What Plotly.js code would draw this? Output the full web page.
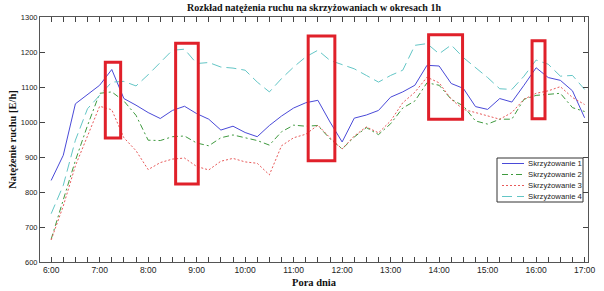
<!DOCTYPE html>
<html>
<head>
<meta charset="utf-8">
<script src="https://cdn.plot.ly/plotly-3.0.1.min.js"></script>
<style>html,body{margin:0;padding:0;background:#fff;}#chart{width:604px;height:291px;}</style>
</head>
<body>
<div id="chart"></div>
<script>
const times = ["6:00","6:15","6:30","6:45","7:00","7:15","7:30","7:45","8:00","8:15","8:30","8:45",
  "9:00","9:15","9:30","9:45","10:00","10:15","10:30","10:45","11:00","11:15","11:30","11:45",
  "12:00","12:15","12:30","12:45","13:00","13:15","13:30","13:45","14:00","14:15","14:30","14:45",
  "15:00","15:15","15:30","15:45","16:00","16:15","16:30","16:45","17:00"];
const s1 = [833,905,1052,1078,1105,1150,1067,1048,1027,1010,1033,1045,1024,1008,977,988,970,958,990,1017,1040,1055,1062,1000,943,1011,1020,1033,1071,1086,1105,1162,1160,1110,1096,1044,1036,1067,1057,1105,1155,1127,1119,1089,1012];
const s2 = [665,775,890,990,1082,1086,1060,1019,948,947,958,960,940,932,955,963,955,947,934,972,991,988,990,952,923,957,984,964,995,1040,1060,1112,1105,1065,1046,1003,994,1008,1008,1065,1076,1078,1082,1041,1030];
const s3 = [663,760,875,960,1045,1035,955,918,864,884,894,897,873,863,888,896,886,882,849,932,955,965,991,955,923,960,986,969,1003,1055,1085,1128,1112,1065,1036,1027,1017,1008,1027,1065,1082,1089,1101,1070,1050];
const s4 = [738,819,948,1038,1076,1114,1116,1103,1135,1170,1205,1208,1167,1170,1157,1154,1148,1114,1086,1124,1157,1186,1205,1176,1164,1152,1133,1114,1133,1148,1219,1224,1195,1220,1184,1155,1127,1095,1093,1131,1177,1165,1131,1133,1093];
const seriesNames = ["Skrzyżowanie 1","Skrzyżowanie 2","Skrzyżowanie 3","Skrzyżowanie 4"];

// highlighted regions (red frames)
const hlStart = ["7:07","8:34","11:18","13:47","15:55"];
const hlEnd   = ["7:26","9:02","11:51","14:29","16:11"];
const hlLow   = [954,823,889,1008,1009];
const hlHigh  = [1171,1225,1246,1249,1232];

function toH(t){const p=t.split(":");return +p[0]+ (+p[1])/60;}
const x = times.map(toH);

const colors = ["#4a4ad8","#3f9a3f","#e85a5a","#63c6c6"];
const dashes = ["solid","6px,3px,2px,3px","2px,2px","10px,5px"];
const data = [s1,s2,s3,s4].map((s,i)=>({
  x:x, y:s, type:"scatter", mode:"lines", name:seriesNames[i], showlegend:false,
  line:{color:colors[i], width:1, dash:dashes[i]}
}));

const shapes = hlStart.map((s,i)=>({
  type:"rect", xref:"x", yref:"y", x0:toH(s), x1:toH(hlEnd[i]), y0:hlLow[i], y1:hlHigh[i],
  line:{color:"#e0202a", width:3}, fillcolor:"rgba(0,0,0,0)"
}));

// custom compact legend (pixel layout -> paper coords)
const M = {l:40, r:16, t:17, b:29}, W = 604, H = 291;
const pw = W - M.l - M.r, ph = H - M.t - M.b;
const px = v => (v - M.l) / pw;
const py = v => 1 - (v - M.t) / ph;
const annotations = [];
shapes.push({type:"rect", xref:"paper", yref:"paper", x0:px(497), x1:px(583), y0:py(202), y1:py(158),
  line:{color:"#333", width:1}, fillcolor:"#fff", layer:"above"});
seriesNames.forEach((n,i)=>{
  const yy = 163.5 + i*11;
  shapes.push({type:"line", xref:"paper", yref:"paper", x0:px(502), x1:px(524), y0:py(yy), y1:py(yy),
    line:{color:colors[i], width:1, dash:dashes[i]}, layer:"above"});
  annotations.push({xref:"paper", yref:"paper", x:px(526), y:py(yy), xanchor:"left", yanchor:"middle",
    text:n, showarrow:false, font:{size:7.7, color:"#222", family:"Liberation Sans, Arial, sans-serif"}});
});

const layout = {
  width:W, height:H,
  margin:M,
  paper_bgcolor:"#fff", plot_bgcolor:"#fff",
  font:{family:"Liberation Sans, Arial, sans-serif", size:8, color:"#222"},
  title:{text:"<b>Rozkład natężenia ruchu na skrzyżowaniach w okresach 1h</b>",
    font:{family:"Liberation Serif, Times New Roman, serif", size:10, color:"#111"},
    x:0.5, xref:"paper", y:0.985, yanchor:"top"},
  xaxis:{range:[5.77,17.07], tickvals:x, ticktext:times.map(t=>t.endsWith(":00")?t:""),
    ticks:"inside", ticklen:5, tickcolor:"#444", showline:true, linecolor:"#555", linewidth:1,
    mirror:"allticks", showgrid:false, zeroline:false,
    tickfont:{size:8.5, family:"Liberation Sans, Arial, sans-serif", color:"#222"},
    title:{text:"<b>Pora dnia</b>", font:{family:"Liberation Serif, Times New Roman, serif", size:10.5, color:"#111"}, standoff:4}},
  yaxis:{range:[600,1300], dtick:100, ticks:"inside", ticklen:5, tickcolor:"#444",
    showline:true, linecolor:"#555", linewidth:1, mirror:"allticks", showgrid:false, zeroline:false,
    tickfont:{size:7.5, family:"Liberation Sans, Arial, sans-serif", color:"#222"},
    title:{text:"<b>Natężenie ruchu [E/h]</b>", font:{family:"Liberation Serif, Times New Roman, serif", size:10.5, color:"#111"}, standoff:2}},
  shapes:shapes,
  annotations:annotations,
  showlegend:false
};
Plotly.newPlot("chart", data, layout, {displayModeBar:false, staticPlot:true});
</script>
</body>
</html>
